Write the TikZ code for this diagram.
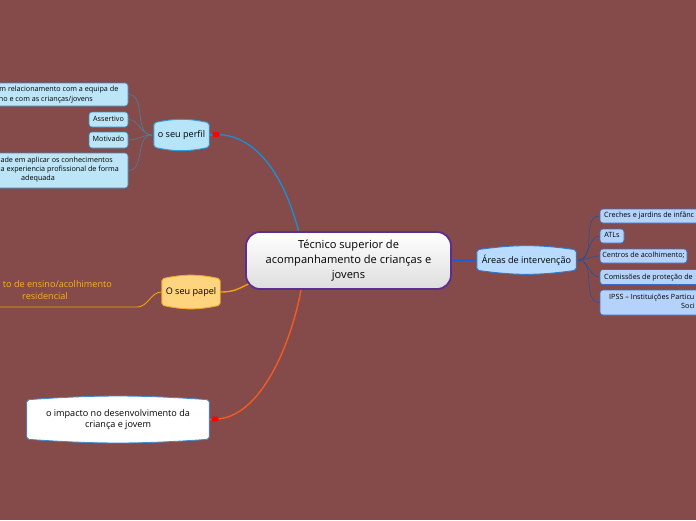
\documentclass[tikz,border=0pt]{standalone}
\usepackage{fontspec}
\setmainfont{Open Sans}
\usetikzlibrary{calc}
\pgfdeclarelayer{canvas}
\pgfdeclarelayer{links}
\pgfdeclarelayer{shapes}
\pgfsetlayers{canvas,links,shapes,main}
\definecolor{bg}{HTML}{844B4A}
\definecolor{perfilfill}{HTML}{B6E4F9}
\definecolor{perfildraw}{HTML}{2E9BDB}
\definecolor{perfillink}{HTML}{1E8CD3}
\definecolor{childfill}{HTML}{BCE6F8}
\definecolor{childdraw}{HTML}{3A8DC5}
\definecolor{childlink}{HTML}{4D7EA0}
\definecolor{papelfill}{HTML}{FFD47F}
\definecolor{papeldraw}{HTML}{F2A52B}
\definecolor{papellink}{HTML}{F2A20A}
\definecolor{ctxtext}{HTML}{FFB11A}
\definecolor{impdraw}{HTML}{3E8BD0}
\definecolor{implink}{HTML}{F25A26}
\definecolor{areasfill}{HTML}{B8DBFF}
\definecolor{areasdraw}{HTML}{2E78D0}
\definecolor{areaslink}{HTML}{2259CC}
\definecolor{achildfill}{HTML}{B4D2FA}
\definecolor{achilddraw}{HTML}{3B6DC4}
\definecolor{achildlink}{HTML}{2D4F94}
\definecolor{centraldraw}{HTML}{5E2D91}
\newcommand\bulgeshape[4]{%
\begin{pgfonlayer}{shapes}
\clip (0,0) rectangle (696,520);
\path[#1] ([yshift=-#3]#2.north west) to[bend left=#4] ([yshift=-#3]#2.north east) -- ([yshift=#3]#2.south east) to[bend left=#4] ([yshift=#3]#2.south west) -- cycle;
\end{pgfonlayer}}
\tikzset{
  txt/.style={inner sep=0pt, text height=5pt, text depth=1.5pt, font=\fontsize{7.2}{9}\selectfont},
  bnode/.style={inner sep=0pt, font=\fontsize{9.1}{11.5}\selectfont},
  cbox/.style={draw=childdraw, fill=childfill, line width=0.6pt, rounded corners=3pt, inner sep=0pt},
  abox/.style={draw=achilddraw, fill=achildfill, line width=0.6pt, rounded corners=3pt, inner sep=0pt},
  dotnode/.style={fill=red, rounded corners=1.5pt, minimum width=7pt, minimum height=5pt, inner sep=0pt},
  clink/.style={draw=childlink, line width=0.6pt},
  alink/.style={draw=achildlink, line width=0.6pt},
}
\begin{document}
\begin{tikzpicture}[x=1pt,y=-1pt]
\begin{pgfonlayer}{canvas}
\fill[bg] (0,0) rectangle (696,520);
\end{pgfonlayer}
\useasboundingbox (0,0) rectangle (696,520);
\begin{scope}
\clip (0,0) rectangle (696,520);
% central
\node[draw=centraldraw, line width=1.8pt, rounded corners=14pt, top color=white, bottom color=black!13,
      minimum width=205pt, minimum height=57pt, inner sep=0pt, align=center,
      font=\fontsize{11.1}{14.8}\selectfont] (central) at (348.5,260.5)
      {Técnico superior de\\acompanhamento de crianças e\\jovens};
% o seu perfil
\node[bnode, minimum width=55pt, minimum height=30pt] (perfil) at (181.5,135) {o seu perfil};
\bulgeshape{draw=perfildraw, fill=perfilfill, line width=0.9pt, rounded corners=2pt}{perfil}{3pt}{12}
\node[dotnode] (dot1) at (216,134.5) {};
% perfil children
\node[cbox, minimum width=148pt, minimum height=23pt] (rel) at (54,94.5) {};
\node[txt, anchor=east] (rel1) at (118.5,90) {m relacionamento com a equipa de};
\node[txt, anchor=east] (rel2) at (93,99.5) {ho e com as crianças/jovens};
\node[cbox, minimum width=39pt, minimum height=15pt, txt] (assert) at (108.5,119.5) {Assertivo};
\node[cbox, minimum width=39pt, minimum height=16pt, txt] (motiv) at (108.5,140) {Motivado};
\node[cbox, minimum width=148pt, minimum height=35pt] (cap) at (54,170.5) {};
\node[txt, anchor=east] (cap1) at (113,160.5) {ade em aplicar os conhecimentos};
\node[txt, anchor=east] (cap2) at (119,170) {a experiencia profissional de forma};
\node[txt] (cap3) at (38,179) {adequada};
% o seu papel
\node[bnode, minimum width=58pt, minimum height=32pt] (papel) at (191,292) {O seu papel};
\bulgeshape{draw=papeldraw, fill=papelfill, line width=0.9pt, rounded corners=2pt}{papel}{3pt}{12}
\node[inner sep=0pt, anchor=east, text=ctxtext, font=\fontsize{9.1}{11}\selectfont, text height=6pt, text depth=2pt] (ctx1) at (112,285) {to de ensino/acolhimento};
\node[inner sep=0pt, text=ctxtext, font=\fontsize{9.1}{11}\selectfont, text height=6pt, text depth=2pt] (ctx2) at (45,297.5) {residencial};
\coordinate (ulend) at (137,307);
\coordinate (ulstart) at (-2,307);
% impacto
\node[bnode, minimum width=182pt, minimum height=45pt, align=center] (imp) at (118,419.5) {o impacto no desenvolvimento da\\criança e jovem};
\bulgeshape{draw=impdraw, fill=white, line width=0.8pt, rounded corners=2pt}{imp}{3pt}{4}
\node[dotnode] (dot2) at (215,419) {};
% areas
\node[bnode, minimum width=99pt, minimum height=26pt] (areas) at (526.5,260) {Áreas de intervenção};
\bulgeshape{draw=areasdraw, fill=areasfill, line width=0.9pt, rounded corners=2pt}{areas}{3pt}{8}
% areas children
\node[abox, minimum width=110pt, minimum height=14pt] (creches) at (655,216) {};
\node[txt, anchor=west] (crechest) at (604,216) {Creches e jardins de infânc};
\node[abox, minimum width=24pt, minimum height=14pt, txt] (atls) at (612,236) {ATLs};
\node[abox, minimum width=87pt, minimum height=14pt, txt] (centros) at (643.5,256) {Centros de acolhimento;};
\node[abox, minimum width=110pt, minimum height=15pt] (comis) at (655,277) {};
\node[txt, anchor=west] (comist) at (604,277.5) {Comissões de proteção de};
\node[abox, minimum width=110pt, minimum height=25pt] (ipss) at (655,302.5) {};
\node[txt, anchor=west] (ipss1) at (609,297.5) {IPSS – Instituições Particu};
\node[txt, anchor=west] (ipss2) at (681,307) {Soci};
\end{scope}
% links
\begin{pgfonlayer}{links}
\clip (0,0) rectangle (696,520);
\draw[perfillink, line width=1.4pt] (perfil.east) -- (dot1.center);
\draw[perfillink, line width=1.4pt] (dot1.center) .. controls +(42,0) and +(-14,-58) .. ([xshift=55pt,yshift=-6pt]central.north west);
\draw[papellink, line width=1.4pt] (papel.east) .. controls +(16,0) and +(-14,6) .. ([xshift=8pt,yshift=8pt]central.south west);
\draw[implink, line width=1.4pt] (dot2.center) .. controls +(45,0) and +(-10,60) .. ([xshift=57pt,yshift=6pt]central.south west);
\draw[implink, line width=1.4pt] (imp.east) -- (dot2.center);
\draw[areaslink, line width=1.4pt] (central.east) -- (areas.west);
\foreach \c in {rel,assert,motiv,cap}{
  \draw[clink] (\c.east) to[out=0,in=180] ([xshift=-2pt]perfil.west);
}
\draw[papellink, line width=0.9pt] (papel.west) to[out=180,in=0] (ulend) -- (ulstart);
\foreach \c in {creches,atls,centros,comis,ipss}{
  \draw[alink] ([xshift=2pt]areas.east) to[out=0,in=180] (\c.west);
}
\end{pgfonlayer}
\end{tikzpicture}
\end{document}
